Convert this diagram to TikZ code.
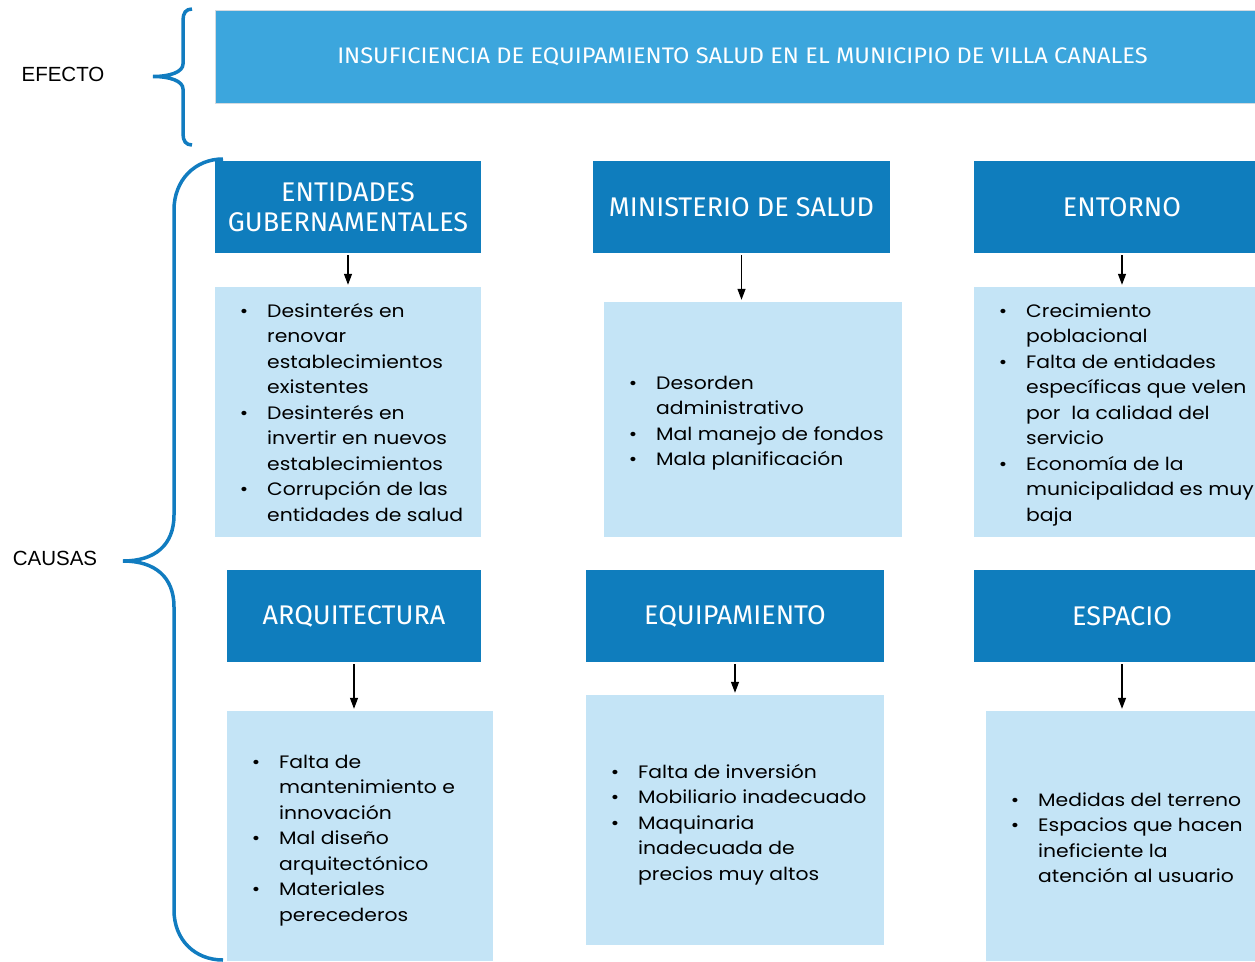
\documentclass[tikz,border=0pt]{standalone}
\usepackage{fontspec}
\usetikzlibrary{arrows.meta}
\newfontfamily\bodyf[FakeStretch=1.13]{Poppins}
\newfontfamily\headf[FakeStretch=1.0]{Fira Sans}
\newfontfamily\topf[FakeStretch=1.05]{Fira Sans}
\newfontfamily\arialf{Liberation Sans}
\definecolor{topblue}{HTML}{3CA6DD}
\definecolor{hdrblue}{HTML}{0F7DBD}
\definecolor{lightblue}{HTML}{C4E4F6}
\definecolor{bracecol}{HTML}{117CC0}
\definecolor{edgegray}{HTML}{D3DAE0}
\newcommand{\bl}{\llap{\textbullet\hspace{19pt}}}
\begin{document}
\begin{tikzpicture}[x=1pt,y=-1pt,
  hdr/.style={fill=hdrblue, text=white, font=\headf\fontsize{27}{30.5}\selectfont, inner sep=0pt, align=center},
  topbar/.style={fill=topblue, draw=edgegray, line width=1pt, text=white, font=\topf\fontsize{22.5}{26}\selectfont, inner sep=0pt},
  cbox/.style={fill=lightblue, inner sep=0pt},
  lst/.style={inner sep=0pt, anchor=base west, font=\bodyf\fontsize{18}{25.5}\selectfont},
  arr/.style={-{Triangle[length=11pt,width=8pt]}, line width=1.2pt, black, shorten >=2pt},
  side/.style={font=\arialf\fontsize{20.5}{24}\selectfont, inner sep=0pt},
  bracestyle/.style={draw=bracecol, line width=3.5pt}
]
\useasboundingbox (0,0) rectangle (1255,961);
\clip (0,0) rectangle (1255,961);

% top bar
\node[topbar, minimum width=1055pt, minimum height=93pt] (top) at (742.5,56.5)
  {INSUFICIENCIA DE EQUIPAMIENTO SALUD EN EL MUNICIPIO DE VILLA CANALES};

% side labels
\node[side] (efecto) at (63,74) {EFECTO};
\node[side] (causas) at (55,558) {CAUSAS};

% braces
\draw[bracestyle] (192,9) .. controls (186,9) and (183,13) .. (183,20) -- (183,64)
  .. controls (183,72) and (170,76.5) .. (153,76.5)
  .. controls (170,76.5) and (183,81) .. (183,89) -- (183,134)
  .. controls (183,141) and (186,145) .. (192,145);
\draw[bracestyle] (223,159) .. controls (195,159) and (174,180) .. (174,210) -- (174,515)
  .. controls (174,545) and (155,561) .. (123,561)
  .. controls (155,561) and (174,577) .. (174,607) -- (174,910)
  .. controls (174,940) and (195,960) .. (223,960);

% row 1 headers
\node[hdr, minimum width=266pt, minimum height=92pt] (h1) at (348,207) {ENTIDADES\\GUBERNAMENTALES};
\node[hdr, minimum width=297pt, minimum height=92pt] (h2) at (741.5,207) {MINISTERIO DE SALUD};
\node[hdr, minimum width=296pt, minimum height=92pt] (h3) at (1122,207) {ENTORNO};

% row 1 content boxes
\node[cbox, minimum width=266pt, minimum height=250pt] (c1) at (348,412) {};
\node[cbox, minimum width=298pt, minimum height=235pt] (c2) at (753,419.5) {};
\node[cbox, minimum width=296pt, minimum height=250pt] (c3) at (1122,412) {};

% row 2 headers
\node[hdr, minimum width=254pt, minimum height=92pt] (h4) at (354,616) {ARQUITECTURA};
\node[hdr, minimum width=298pt, minimum height=92pt] (h5) at (735,616) {EQUIPAMIENTO};
\node[hdr, minimum width=296pt, minimum height=92pt] (h6) at (1122,616) {ESPACIO};

% row 2 content boxes
\node[cbox, minimum width=266pt, minimum height=250pt] (c4) at (360,836) {};
\node[cbox, minimum width=298pt, minimum height=250pt] (c5) at (735,820) {};
\node[cbox, minimum width=272pt, minimum height=250pt] (c6) at (1122,836) {};

% arrows
\foreach \h/\c in {h1/c1,h2/c2,h3/c3,h4/c4,h5/c5,h6/c6}
  \draw[arr] ([yshift=-2pt]\h.south) -- (\h.south |- \c.north);

% lists
\node[lst] (t1) at (267,317) {\begin{tabular}[t]{@{}l@{}}
\bl Desinterés en\\ renovar\\ establecimientos\\ existentes\\
\bl Desinterés en\\ invertir en nuevos\\ establecimientos\\
\bl Corrupción de las\\ entidades de salud\end{tabular}};
\node[lst] (t2) at (656,389) {\begin{tabular}[t]{@{}l@{}}
\bl Desorden\\ administrativo\\ \bl Mal manejo de fondos\\ \bl Mala planificación\end{tabular}};
\node[lst] (t3) at (1026,317) {\begin{tabular}[t]{@{}l@{}}
\bl Crecimiento\\ poblacional\\ \bl Falta de entidades\\ específicas que velen\\
por\ \ la calidad del\\ servicio\\ \bl Economía de la\\ municipalidad es muy\\ baja\end{tabular}};
\node[lst] (t4) at (279,768) {\begin{tabular}[t]{@{}l@{}}
\bl Falta de\\ mantenimiento e\\ innovación\\ \bl Mal diseño\\ arquitectónico\\
\bl Materiales\\ perecederos\end{tabular}};
\node[lst] (t5) at (638,778) {\begin{tabular}[t]{@{}l@{}}
\bl Falta de inversión\\ \bl Mobiliario inadecuado\\ \bl Maquinaria\\ inadecuada de\\ precios muy altos\end{tabular}};
\node[lst] (t6) at (1038,806) {\begin{tabular}[t]{@{}l@{}}
\bl Medidas del terreno\\ \bl Espacios que hacen\\ ineficiente la\\ atención al usuario\end{tabular}};
\end{tikzpicture}
\end{document}
